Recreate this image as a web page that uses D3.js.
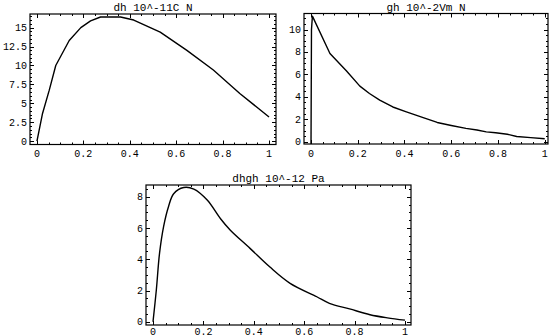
<!DOCTYPE html>
<html>
<head>
<meta charset="utf-8">
<script src="https://cdn.jsdelivr.net/npm/d3@7"></script>
<style>
  body { margin: 0; background: #fff; }
  svg { display: block; }
  text { font-family: "Liberation Mono", "DejaVu Sans Mono", monospace; fill: #000; }
</style>
</head>
<body>
<div id="chart"></div>
<script>
// values
var xTicks = [0, 0.2, 0.4, 0.6, 0.8, 1];

var dhTitle = "dh 10^-11C N";
var dhX = [0, 0.024, 0.053, 0.081, 0.139, 0.189, 0.231, 0.274, 0.36, 0.417, 0.531, 0.646, 0.76, 0.874, 1];
var dhY = [0, 3.66, 6.74, 10.0, 13.3, 15.0, 15.9, 16.4, 16.4, 16.0, 14.4, 12.0, 9.4, 6.3, 3.2];
var dhYTicks = [0, 2.5, 5, 7.5, 10, 12.5, 15];

var ghTitle = "gh 10^-2Vm N";
var ghX = [0, 0.002, 0.006, 0.081, 0.152, 0.209, 0.25, 0.294, 0.35, 0.408, 0.48, 0.54, 0.6, 0.663, 0.71, 0.75, 0.79, 0.84, 0.88, 0.94, 1];
var ghY = [-0.2, 10, 11.2, 7.86, 6.3, 4.96, 4.3, 3.71, 3.1, 2.67, 2.15, 1.72, 1.45, 1.19, 1.05, 0.88, 0.8, 0.67, 0.47, 0.37, 0.27];
var ghYTicks = [0, 2, 4, 6, 8, 10];

var dhghTitle = "dhgh 10^-12 Pa";
var dhghX = [0, 0.013, 0.026, 0.042, 0.062, 0.082, 0.122, 0.162, 0.215, 0.268, 0.306, 0.385, 0.464, 0.544, 0.65, 0.70, 0.78, 0.861, 0.93, 1];
var dhghY = [0, 2.0, 4.4, 6.1, 7.4, 8.2, 8.6, 8.5, 7.8, 6.6, 5.88, 4.7, 3.5, 2.46, 1.6, 1.18, 0.82, 0.45, 0.25, 0.1];
var dhghYTicks = [0, 2, 4, 6, 8];

var W = 551, H = 336;

var svg = d3.select("#chart")
    .append("svg")
    .attr("width", W)
    .attr("height", H);

var panels = [
    { id: "p1", title: dhTitle, xs: dhX, ys: dhY, yTicks: dhYTicks, yMinor: 0.5, curve: d3.curveLinear,
      xDom: [-0.03, 1.03], yDom: [-0.44, 16.8], box: [30, 14, 276, 144.5], xLab: 12.5 },
    { id: "p2", title: ghTitle, xs: ghX, ys: ghY, yTicks: ghYTicks, yMinor: 0.5, curve: d3.curveLinear,
      xDom: [-0.03, 1.014], yDom: [-0.2, 11.43], box: [304, 13.5, 548, 144], xLab: 12.5 },
    { id: "p3", title: dhghTitle, xs: dhghX, ys: dhghY, yTicks: dhghYTicks, yMinor: 0.5, curve: d3.curveCatmullRom,
      xDom: [-0.0278, 1.0238], yDom: [-0.21, 8.76], box: [146, 185, 411, 325], xLab: 9.5 }
];

panels.forEach(function (p) {
    drawPanel(p);
});

function range(a, b, step) {
    var out = [];
    for (var v = a; v <= b + 1e-9; v += step) out.push(Math.round(v * 1000) / 1000);
    return out;
}

function drawPanel(p) {
    var x0 = p.box[0], y0 = p.box[1], x1 = p.box[2], y1 = p.box[3];

    var x = d3.scaleLinear().domain(p.xDom).range([x0, x1]);
    var y = d3.scaleLinear().domain(p.yDom).range([y1, y0]);

    var g = svg.append("g");

    g.append("clipPath")
        .attr("id", "clip-" + p.id)
        .append("rect")
        .attr("x", x0).attr("y", y0)
        .attr("width", x1 - x0).attr("height", y1 - y0);

    // ticks, inward on all four sides
    var xMajor = xTicks;
    var xMinor = range(0, 1, 0.05).filter(function (v) { return xMajor.indexOf(v) < 0; });
    var yMajor = p.yTicks;
    var yMinor = range(0, p.yDom[1], p.yMinor).filter(function (v) { return yMajor.indexOf(v) < 0; });

    var tickG = g.append("g").attr("stroke", "#000").attr("stroke-width", 1);

    function xTickLines(vals, len) {
        vals.forEach(function (v) {
            var px = Math.round(x(v)) + 0.5;
            tickG.append("line").attr("x1", px).attr("x2", px).attr("y1", y1).attr("y2", y1 - len);
            tickG.append("line").attr("x1", px).attr("x2", px).attr("y1", y0).attr("y2", y0 + len);
        });
    }
    function yTickLines(vals, len) {
        vals.forEach(function (v) {
            var py = Math.round(y(v)) + 0.5;
            tickG.append("line").attr("y1", py).attr("y2", py).attr("x1", x0).attr("x2", x0 + len);
            tickG.append("line").attr("y1", py).attr("y2", py).attr("x1", x1).attr("x2", x1 - len);
        });
    }
    xTickLines(xMajor, 4);
    xTickLines(xMinor, 2);
    yTickLines(yMajor, 4);
    yTickLines(yMinor, 2);

    // tick labels
    g.selectAll(".xl")
        .data(xMajor)
        .enter()
        .append("text")
        .attr("x", function (d) { return x(d); })
        .attr("y", y1 + p.xLab)
        .attr("text-anchor", "middle")
        .style("font-size", "10px")
        .text(function (d) { return d3.format("")(d); });

    g.selectAll(".yl")
        .data(yMajor)
        .enter()
        .append("text")
        .attr("x", x0 - 3)
        .attr("y", function (d) { return y(d) + 3.5; })
        .attr("text-anchor", "end")
        .style("font-size", "10px")
        .text(function (d) { return d3.format("")(d); });

    // title
    g.append("text")
        .attr("x", (x0 + x1) / 2)
        .attr("y", y0 - 3)
        .attr("text-anchor", "middle")
        .style("font-size", "11px")
        .text(p.title);

    // curve
    var pts = p.xs.map(function (v, i) { return [v, p.ys[i]]; });
    var line = d3.line()
        .curve(p.curve)
        .x(function (d) { return x(d[0]); })
        .y(function (d) { return y(d[1]); });

    g.append("path")
        .datum(pts)
        .attr("clip-path", "url(#clip-" + p.id + ")")
        .attr("fill", "none")
        .attr("stroke", "#000")
        .attr("stroke-width", 1.4)
        .attr("stroke-linejoin", "round")
        .attr("d", line);

    // frame
    g.append("rect")
        .attr("x", x0).attr("y", y0)
        .attr("width", x1 - x0).attr("height", y1 - y0)
        .attr("fill", "none")
        .attr("stroke", "#000")
        .attr("stroke-width", 1.2);
}
</script>
</body>
</html>
